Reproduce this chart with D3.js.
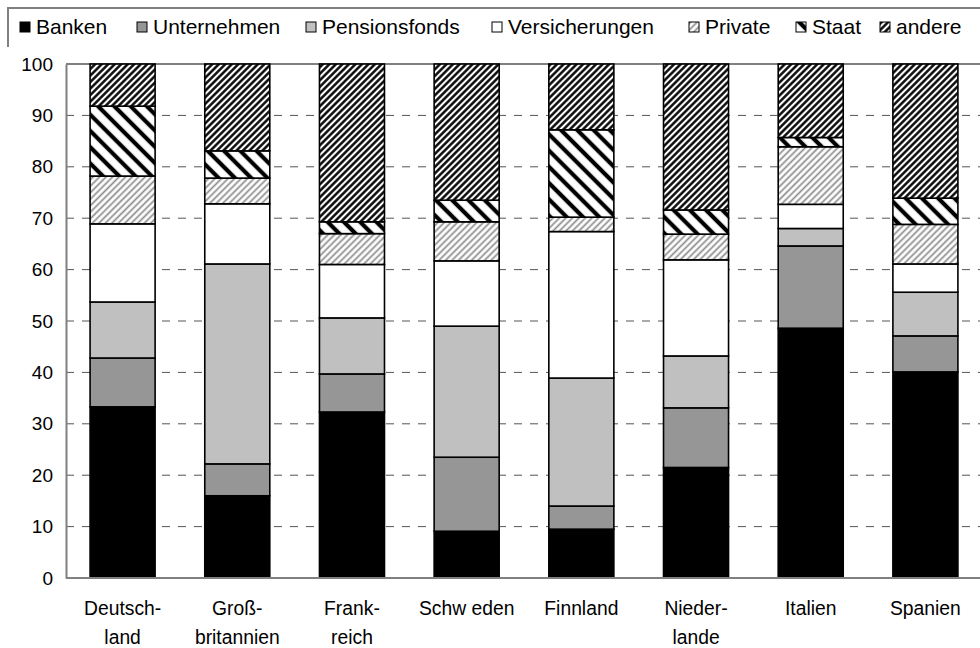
<!DOCTYPE html>
<html><head><meta charset="utf-8">
<script src="https://cdn.jsdelivr.net/npm/d3@7"></script>
<style>body{margin:0;background:#fff}svg{display:block}text{font-family:"Liberation Sans",Arial,sans-serif;fill:#000}</style>
</head><body><svg id="c" width="980" height="648"></svg>
<script>
const categories = [["Deutsch-","land"],["Groß-","britannien"],["Frank-","reich"],["Schw eden"],["Finnland"],["Nieder-","lande"],["Italien"],["Spanien"]];
const seriesNames = ["Banken","Unternehmen","Pensionsfonds","Versicherungen","Private","Staat","andere"];
const banken        = [33.3,16.0,32.3, 9.1, 9.5,21.5,48.6,40.1];
const unternehmen   = [ 9.5, 6.2, 7.4,14.4, 4.5,11.6,16.0, 7.0];
const pensionsfonds = [10.9,38.9,10.9,25.5,24.9,10.1, 3.4, 8.5];
const versicherungen= [15.2,11.7,10.4,12.7,28.5,18.7, 4.7, 5.5];
const privat        = [ 9.3, 5.0, 6.0, 7.6, 2.8, 5.0,11.2, 7.7];
const staat         = [13.6, 5.3, 2.3, 4.2,17.0, 4.7, 1.8, 5.1];
const andere        = [ 8.2,16.9,30.7,26.5,12.8,28.4,14.3,26.1];
const yTicks = [0,10,20,30,40,50,60,70,80,90,100];

const seriesData = [banken,unternehmen,pensionsfonds,versicherungen,privat,staat,andere];
const fills = ["#000","#969696","#c0c0c0","#fff","url(#pPriv)","url(#pStaat)","url(#pAnd)"];

const svg = d3.select("#c");
const defs = svg.append("defs");
function stripe(id, w, sw, color, angle){
  const p = defs.append("pattern").attr("id",id).attr("patternUnits","userSpaceOnUse")
    .attr("width",w).attr("height",w).attr("patternTransform",`rotate(${angle})`);
  p.append("rect").attr("width",w).attr("height",w).attr("fill","#fff");
  p.append("line").attr("x1",w/2).attr("x2",w/2).attr("y1",0).attr("y2",w)
    .attr("stroke",color).attr("stroke-width",sw);
}
stripe("pAnd",4.6,2.4,"#000",45);
stripe("pPriv",4.6,1.7,"#8c8c8c",45);
stripe("pStaat",11.5,4.2,"#000",-45);

const margin = {left:66, top:64, bottom:578, right:982};
const x = d3.scaleBand().domain(d3.range(categories.length)).range([margin.left, margin.right])
  .paddingInner(0.433).paddingOuter(0.21);
const y = d3.scaleLinear().domain([0,100]).range([margin.bottom, margin.top]);

// grid
svg.append("g").selectAll("line").data(yTicks.filter(d=>d>0&&d<100)).join("line")
  .attr("x1",margin.left).attr("x2",980).attr("y1",d=>y(d)).attr("y2",d=>y(d))
  .attr("stroke","#555").attr("stroke-width",1).attr("stroke-dasharray","8,8");
svg.append("line").attr("x1",margin.left).attr("x2",980).attr("y1",y(100)).attr("y2",y(100))
  .attr("stroke","#808080").attr("stroke-width",2);

// stacked bars
const rows = categories.map((c,i)=>{const o={i}; seriesNames.forEach((s,k)=>o[s]=seriesData[k][i]); return o;});
const stack = d3.stack().keys(seriesNames)(rows);
stack.forEach((layer,k)=>{
  svg.append("g").selectAll("rect").data(layer).join("rect")
    .attr("x",d=>x(d.data.i)).attr("width",x.bandwidth())
    .attr("y",d=>y(d[1])).attr("height",d=>y(d[0])-y(d[1]))
    .attr("fill",fills[k]).attr("stroke","#000").attr("stroke-width",1.6);
});

// axes
const yAxis = svg.append("g").attr("transform",`translate(${margin.left},0)`)
  .call(d3.axisLeft(y).tickValues(yTicks).tickSize(0).tickPadding(13));
yAxis.select(".domain").attr("stroke","#808080").attr("stroke-width",2);
yAxis.selectAll("text").attr("font-size",19).attr("font-family","Liberation Sans, Arial");
svg.append("line").attr("x1",margin.left).attr("x2",980).attr("y1",y(0)).attr("y2",y(0))
  .attr("stroke","#808080").attr("stroke-width",2);

const xl = svg.append("g").selectAll("text").data(categories).join("text")
  .attr("text-anchor","middle").attr("font-size",21)
  .attr("transform",(d,i)=>`translate(${x(i)+x.bandwidth()/2},615) scale(0.92,1)`);
xl.selectAll("tspan").data(d=>d).join("tspan").attr("x",0).attr("dy",(d,j)=>j?29:0).text(d=>d);

// legend frame (top and left edges visible)
svg.append("path").attr("d","M8,47V8H980").attr("fill","none").attr("stroke","#808080").attr("stroke-width",2);
const legX = [20,137,306,492,689,796,880];
const lg = svg.append("g").selectAll("g").data(seriesNames).join("g")
  .attr("transform",(d,k)=>`translate(${legX[k]},27)`);
lg.append("rect").attr("x",0).attr("y",-5).attr("width",10).attr("height",10)
  .attr("fill",(d,k)=>fills[k]).attr("stroke","#000").attr("stroke-width",1);
lg.append("text").attr("x",16).attr("y",7).attr("font-size",21).text(d=>d);
</script></body></html>
